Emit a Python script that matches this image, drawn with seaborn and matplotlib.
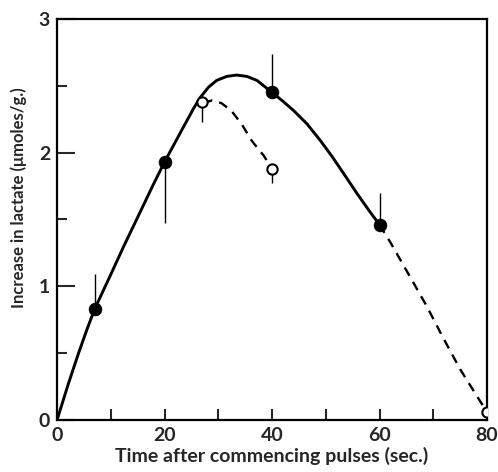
import numpy as np
import pandas as pd
import matplotlib
matplotlib.use("Agg")
import matplotlib.pyplot as plt
import seaborn as sns

# measured points (filled = during stimulation, open = after stopping)
filled_t = [7, 20, 40, 60]
filled_y = [0.83, 1.93, 2.45, 1.46]
filled_err_to = [1.09, 1.47, 2.74, 1.70]

open_t = [27, 40, 80]
open_y = [2.38, 1.88, 0.06]
open_err_to = [2.23, 1.77, 0.06]

# hand-drawn curves
solid_t = [0, 2.1, 4.0, 5.5, 7, 9.9, 12.3, 15.4, 17.9, 20, 23.5, 25.4, 26.6, 28.2,
           29.7, 31.6, 33.4, 35.3, 37.2, 40, 42.0, 44.0, 46.5, 48.9, 51.1, 53.3,
           55.8, 57.9, 60]
solid_y = [0, 0.27, 0.50, 0.67, 0.83, 1.08, 1.29, 1.55, 1.76, 1.93, 2.19, 2.33, 2.41,
           2.49, 2.54, 2.57, 2.58, 2.57, 2.54, 2.45, 2.385, 2.315, 2.215, 2.095, 1.975,
           1.845, 1.695, 1.575, 1.46]

tail_t = [60, 62.0, 65.7, 68.8, 71.9, 75.0, 78.1, 80]
tail_y = [1.46, 1.33, 1.07, 0.85, 0.61, 0.38, 0.18, 0.06]

decay_t = [27.2, 28.8, 30.6, 32.5, 34.4, 36.2, 38.4, 40]
decay_y = [2.37, 2.39, 2.37, 2.31, 2.21, 2.09, 1.98, 1.88]

sns.set_style("white")
plt.rcParams['font.family'] = ['Lato', 'DejaVu Sans']

fig = plt.figure(figsize=(4.98, 4.72), dpi=100)
ax = fig.add_axes([0.1145, 0.11, 0.8635, 0.85])

sns.lineplot(x=solid_t, y=solid_y, sort=False, color="black", linewidth=2.1, ax=ax)
sns.lineplot(x=tail_t, y=tail_y, sort=False, color="black", linewidth=1.7, ax=ax)
sns.lineplot(x=decay_t, y=decay_y, sort=False, color="black", linewidth=1.7, ax=ax)
for ln in ax.lines:
    ln.set_solid_joinstyle("round")
    ln.set_solid_capstyle("round")
ax.lines[1].set_dashes([4, 3])
ax.lines[2].set_dashes([4, 3])

ax.vlines(filled_t, filled_y, filled_err_to, color="black", linewidth=1.0, zorder=3)
ax.vlines(open_t, open_y, open_err_to, color="black", linewidth=1.0, zorder=3)

sns.scatterplot(x=filled_t, y=filled_y, color="black", s=85, edgecolor="black",
                linewidth=0.5, zorder=5, ax=ax)
sns.scatterplot(x=open_t, y=open_y, color="white", s=55, edgecolor="black",
                linewidth=1.5, zorder=5, ax=ax)

ax.set_xlim(0, 80)
ax.set_ylim(0, 3)
ax.set_xticks([0, 20, 40, 60, 80])
ax.set_xticks([10, 30, 50, 70], minor=True)
ax.set_yticks([0, 1, 2, 3])
ax.set_yticks([0.5, 1.5, 2.5], minor=True)
ax.tick_params(which="both", direction="in", width=1.5, bottom=True, left=True,
               top=False, right=False, labelsize=14, pad=5)
ax.tick_params(axis="x", which="both", length=8)
ax.tick_params(axis="y", which="major", length=13)
ax.tick_params(axis="y", which="minor", length=7)
for lab in ax.get_xticklabels() + ax.get_yticklabels():
    lab.set_fontweight("bold")

for s in ax.spines.values():
    s.set_color("black")
    s.set_linewidth(1.6)

ax.set_xlabel("Time after commencing pulses (sec.)", fontsize=14, fontweight="bold", labelpad=2)
ax.set_ylabel("Increase in lactate (\u03bcmoles/g.)", fontsize=12, fontweight="bold")
ax.yaxis.set_label_coords(-0.07, 0.555)

fig.savefig("out.png", dpi=100)
